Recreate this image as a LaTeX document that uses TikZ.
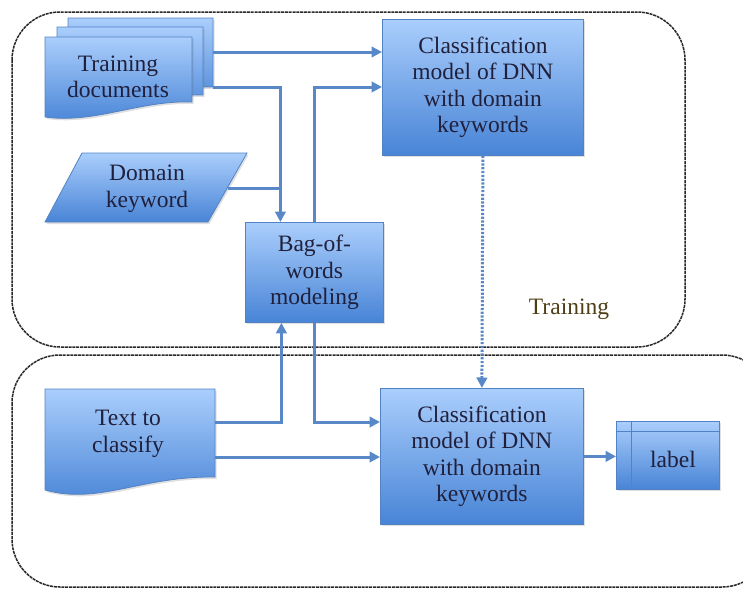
\documentclass[tikz,border=0pt]{standalone}
\usepackage{fontspec}
\setmainfont{Liberation Serif}
\usetikzlibrary{arrows.meta,shadows}
\definecolor{boxtop}{RGB}{170,206,252}
\definecolor{boxbot}{RGB}{72,132,214}
\definecolor{boxline}{RGB}{82,130,196}
\definecolor{arrowc}{RGB}{88,136,200}
\definecolor{txtc}{RGB}{32,32,60}
\definecolor{regionc}{RGB}{40,40,40}
\definecolor{trainc}{RGB}{78,62,22}
\tikzset{
  blk/.style={draw=boxline, line width=0.8pt, top color=boxtop, bottom color=boxbot,
    drop shadow={opacity=0.25, shadow xshift=1.5pt, shadow yshift=-2pt}},
  lbl/.style={text=txtc, font=\fontsize{23.5}{26.5}\selectfont, align=center, inner sep=0pt},
  conn/.style={draw=arrowc, line width=3pt},
  arr/.style={conn, -{Triangle[length=10.5pt,width=10.5pt]}},
  dotarr/.style={arr, dash pattern=on 2.2pt off 1.6pt},
  region/.style={draw=regionc, line width=1.5pt, dash pattern=on 3pt off 0.8pt, rounded corners=48pt},
}
\begin{document}
\begin{tikzpicture}[x=1pt,y=-1pt]
\useasboundingbox (0,0) rectangle (743,589);
\clip (0,0) rectangle (743,589);

% regions
\draw[region] (12,12) rectangle (685,347);
\draw[region] (12,355) rectangle (770,587);
\node[text=trainc, font=\fontsize{23.5}{26}\selectfont, inner sep=0pt] (trainlbl) at (569,309) {Training};

% training documents (stack)
\path[blk] (68,18) -- (213,18) -- (213,87) .. controls (160,85) and (115,108) .. (68,101) -- cycle;
\path[blk] (57,27) -- (203,27) -- (203,95) .. controls (150,93) and (105,117) .. (57,110) -- cycle;
\path[blk] (45,37) -- (192,37) -- (192,102) .. controls (140,100) and (95,124) .. (45,117) -- cycle;
\node[lbl] (traindocs) at (118,77) {Training\\documents};
\coordinate (tdOut1) at (213,52);
\coordinate (tdOut2) at (213,87);

% domain keyword
\path[blk] (82,153) -- (247,153) -- (208,222) -- (45,222) -- cycle;
\node[lbl] (domkey) at (147,189) {Domain\\keyword};
\coordinate (dkOut) at (228,188);

% bag of words
\node[blk, lbl, minimum width=138pt, minimum height=100pt, anchor=north west] (bag) at (245,222) {Bag-of-\\words\\modeling};
\coordinate (bagInT) at ([xshift=-34pt]bag.north);
\coordinate (bagInB) at ([xshift=-33pt]bag.south);

% classification models
\node[blk, lbl, minimum width=201pt, minimum height=136pt, anchor=north west] (ctop) at (382,19) {Classification\\model of DNN\\with domain\\keywords};
\node[blk, lbl, minimum width=203pt, minimum height=136pt, anchor=north west] (cbot) at (380,388) {Classification\\model of DNN\\with domain\\keywords};

% text to classify
\path[blk] (45,389) -- (215,389) -- (215,477) .. controls (140,476) and (100,505) .. (45,490) -- cycle;
\node[lbl] (textcls) at (128,434) {Text to\\classify};
\coordinate (ttOut1) at (215,422);
\coordinate (ttOut2) at (215,457);

% label
\node[blk, minimum width=103pt, minimum height=68pt, inner sep=0pt, anchor=north west] (lab) at (616,421) {};
\draw[boxline, line width=0.8pt] ([xshift=15pt]lab.north west) -- ([xshift=15pt]lab.south west);
\draw[boxline, line width=0.8pt] ([yshift=-10pt]lab.north west) -- ([yshift=-10pt]lab.north east);
\node[lbl] (labtxt) at (673,459) {label};

% connectors
\draw[arr] (tdOut1) -- (tdOut1 -| ctop.west);
\draw[arr] (tdOut2) -| (bagInT);
\draw[conn] (dkOut) -- (dkOut -| bagInT);
\draw[arr] (bag.north) |- (ctop.west |- tdOut2);
\draw[arr] (ttOut1) -| (bagInB);
\draw[arr] (bag.south) |- (cbot.west |- ttOut1);
\draw[arr] (ttOut2) -- (ttOut2 -| cbot.west);
\draw[dotarr] (ctop.south) -- (cbot.north);
\draw[arr] (cbot.east) -- (cbot.east -| lab.west);
\end{tikzpicture}
\end{document}
